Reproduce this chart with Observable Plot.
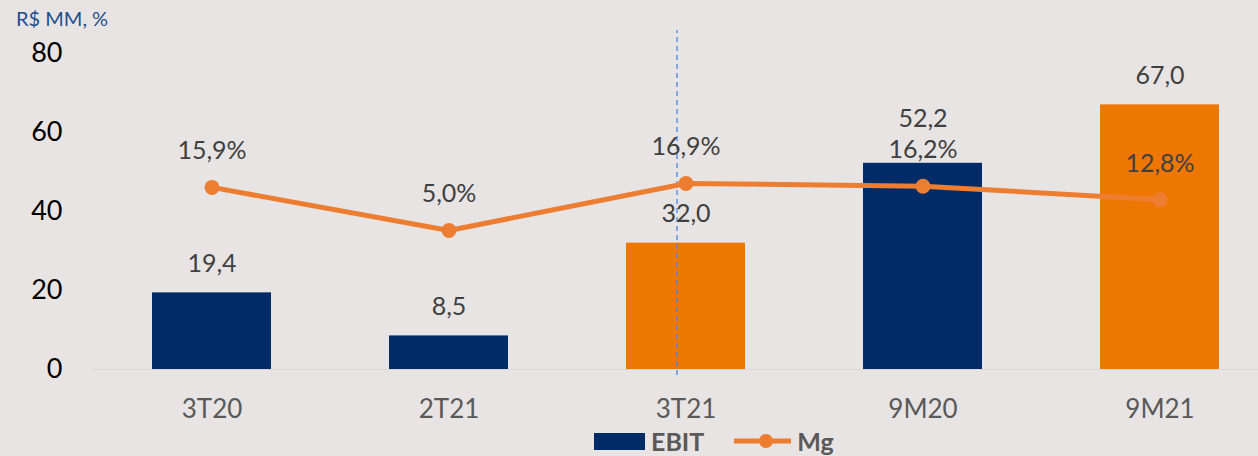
<!DOCTYPE html>
<html>
<head>
<meta charset="utf-8">
<script src="https://cdn.jsdelivr.net/npm/d3@7"></script>
<script src="https://cdn.jsdelivr.net/npm/@observablehq/plot@0.6"></script>
<style>
  html, body { margin: 0; padding: 0; background: #e8e4e3; width: 1258px; height: 456px; overflow: hidden; font-family: Lato, "Open Sans", sans-serif; }
  #title { height: 30px; box-sizing: border-box; padding: 7px 0 0 16px; font-size: 20px; line-height: 22px; color: #1f4e8f; }
  #chart svg { display: block; background: transparent; }
  #legend { height: 30px; display: flex; align-items: center; padding-left: 594px; font-weight: bold; font-size: 25px; color: #595959; }
  #legend .sw { width: 51px; height: 17px; background: #002b66; margin-right: 6px; }
  #legend .ln { margin-left: 30px; margin-right: 6px; }
</style>
</head>
<body>
<div id="title">R$ MM, %</div>
<div id="chart"></div>
<div id="legend"><span class="sw"></span><span>EBIT</span><svg class="ln" width="57" height="18"><line x1="0" y1="9" x2="57" y2="9" stroke="#ed7d31" stroke-width="5"/><circle cx="32" cy="9" r="7" fill="#ed7d31"/></svg><span>Mg</span></div>
<script>
// Data
const categories = ["3T20", "2T21", "3T21", "9M20", "9M21"];
const ebit = [19.4, 8.5, 32.0, 52.2, 67.0];
const mg = [15.9, 5.0, 16.9, 16.2, 12.8];
const highlight = [false, false, true, false, true];
const yTicks = [0, 20, 40, 60, 80];

// secondary (hidden) axis for margin: 0% sits at 30.2 on the primary axis
const mgZero = 30.2;

const rows = categories.map((c, i) => ({cat: c, ebit: ebit[i], mg: mg[i], hl: highlight[i]}));
const fmt = v => v.toFixed(1).replace(".", ",");

const plot = Plot.plot({
  width: 1258,
  height: 396,
  marginTop: 23,
  marginBottom: 57,
  marginLeft: 92.5,
  marginRight: -19.5,
  style: {background: "transparent", fontFamily: "Lato, 'Open Sans', sans-serif"},
  x: {type: "band", domain: categories, paddingInner: 0.5, paddingOuter: 0.25, align: 0.5, label: null},
  y: {domain: [0, 80], label: null},
  color: {domain: [false, true], range: ["#002b66", "#ee7703"]},
  marks: [
    Plot.ruleY([0], {stroke: "#d8d5d4", strokeWidth: 1}),
    Plot.barY(rows, {x: "cat", y: "ebit", fill: "hl"}),
    Plot.ruleX(["3T21"], {y1: -1.5, y2: 86, dx: -9, stroke: "#4a86e8", strokeWidth: 1.3, strokeDasharray: "5,4"}),
    Plot.lineY(rows, {x: "cat", y: d => d.mg + mgZero, stroke: "#ed7d31", strokeWidth: 5}),
    Plot.dot(rows, {x: "cat", y: d => d.mg + mgZero, r: 7.5, fill: "#ed7d31", stroke: "none"}),
    Plot.text(rows.filter(d => d.cat !== "9M20"), {x: "cat", y: "ebit", text: d => fmt(d.ebit), dy: -29, fill: "#404040", fontSize: 25, lineAnchor: "middle"}),
    Plot.text(rows.filter(d => d.cat === "9M20"), {x: "cat", y: "ebit", text: d => fmt(d.ebit), dy: -44, fill: "#404040", fontSize: 25, lineAnchor: "middle"}),
    Plot.text(rows, {x: "cat", y: d => d.mg + mgZero, text: d => fmt(d.mg) + "%", dy: -36, fill: "#404040", fontSize: 25, lineAnchor: "middle"}),
    Plot.axisY({ticks: yTicks, tickSize: 0, tickPadding: 30.5, fontSize: 27, fill: "#000", label: null, tickFormat: d => d}),
    Plot.axisX({tickSize: 0, tickPadding: 30, fontSize: 26, fill: "#595959", label: null})
  ]
});
document.getElementById("chart").appendChild(plot);
</script>
</body>
</html>
